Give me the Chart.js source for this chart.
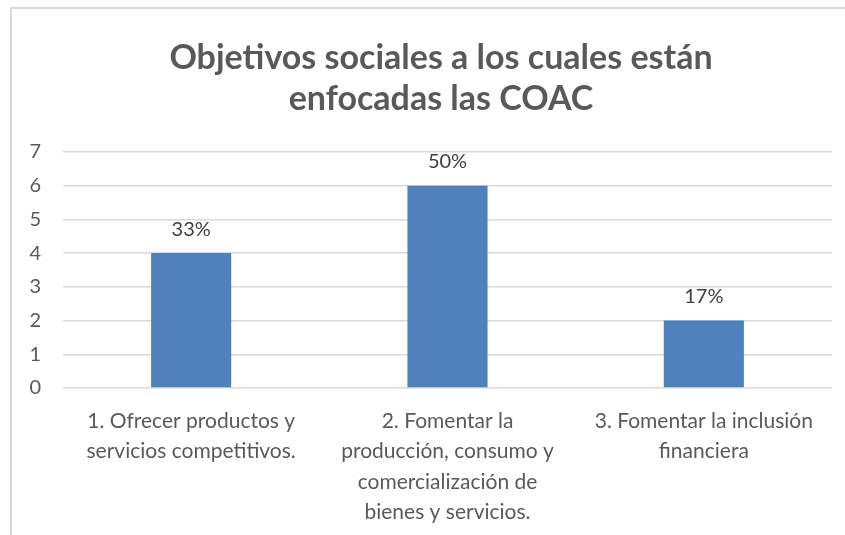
<!DOCTYPE html>
<html>
<head>
<meta charset="utf-8">
<script src="https://cdn.jsdelivr.net/npm/chart.js@4/dist/chart.umd.min.js"></script>
<style>
  html, body { margin: 0; padding: 0; background: #fff; }
  .frame {
    position: absolute; left: 10px; top: 7px;
    width: 900px; height: 600px;
    border: 2px solid #d9d9d9;
  }
  .wrap { position: absolute; left: 0; top: 0; width: 845px; height: 535px; }
</style>
</head>
<body>
<div class="frame"></div>
<div class="wrap"><canvas id="myChart"></canvas></div>
<script>
const categories = [
  ['1. Ofrecer productos y', 'servicios competitivos.'],
  ['2. Fomentar la', 'producción, consumo y', 'comercialización de', 'bienes y servicios.'],
  ['3. Fomentar la inclusión', 'financiera']
];
const counts = [4, 6, 2];
const percentLabels = ['33%', '50%', '17%'];
const yTicks = [0, 1, 2, 3, 4, 5, 6, 7];

const fontFamily = 'Lato, "Open Sans", sans-serif';

// value labels above bars
const barLabels = {
  id: 'barLabels',
  afterDatasetsDraw(chart){
    const ctx = chart.ctx;
    const meta = chart.getDatasetMeta(0);
    ctx.save();
    ctx.font = '20px ' + fontFamily;
    ctx.fillStyle = '#404040';
    ctx.textAlign = 'center';
    ctx.textBaseline = 'middle';
    meta.data.forEach((bar, i) => {
      ctx.fillText(percentLabels[i], bar.x, bar.y - 24);
    });
    ctx.restore();
  }
};

// title sits a bit right of canvas centre in the original
const shiftTitle = {
  id: 'shiftTitle',
  afterLayout(chart){
    if (chart.titleBlock) chart.titleBlock.left += 30;
  }
};

const ctx = document.getElementById('myChart').getContext('2d');

const chart = new Chart(ctx, {
  type: 'bar',
  data: {
    labels: categories,
    datasets: [{
      label: 'Objetivos',
      backgroundColor: '#4F81BD',
      borderWidth: 0,
      data: counts,
      barPercentage: 0.3125,
      categoryPercentage: 1,
    }]
  },
  options: {
    responsive: true,
    maintainAspectRatio: false,
    animation: false,
    layout: { padding: { left: 20, right: 13, top: 0, bottom: 0 } },
    plugins: {
      legend: { display: false },
      tooltip: { enabled: false },
      title: {
        display: true,
        text: ['Objetivos sociales a los cuales están', 'enfocadas las COAC'],
        color: '#595959',
        font: { family: fontFamily, size: 34, weight: 'bold', lineHeight: 1.22 },
        padding: { top: 37, bottom: 32 },
      }
    },
    scales: {
      y: {
        min: 0,
        max: 7,
        afterBuildTicks: axis => { axis.ticks = yTicks.map(v => ({ value: v })); },
        afterFit: axis => { axis.width = 43; },
        grid: { color: '#d9d9d9', lineWidth: 1.5, drawTicks: false },
        border: { display: false },
        ticks: {
          color: '#595959',
          padding: 22,
          font: { family: fontFamily, size: 20 },
        }
      },
      x: {
        grid: { display: false, drawTicks: false },
        border: { display: false },
        afterFit: axis => { axis.height = 147; },
        ticks: {
          color: '#595959',
          padding: 18,
          maxRotation: 0,
          autoSkip: false,
          font: { family: fontFamily, size: 21, lineHeight: 1.45 },
        }
      }
    }
  },
  plugins: [barLabels, shiftTitle]
});
</script>
</body>
</html>
